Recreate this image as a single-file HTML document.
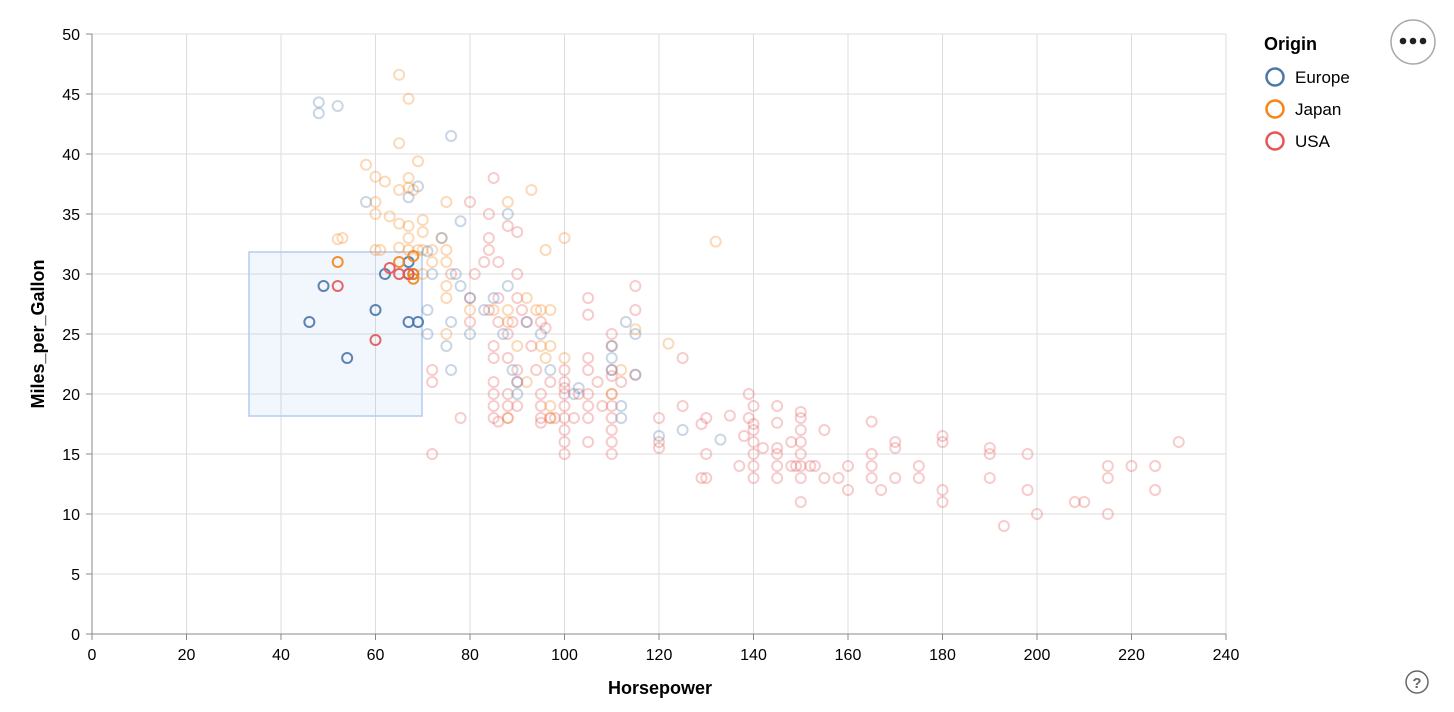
<!DOCTYPE html>
<html><head><meta charset="utf-8"><style>
body{margin:0;background:#fff;font-family:"Liberation Sans",Arial,sans-serif}
svg{display:block}
</style></head><body>
<svg id="s" width="1454" height="712" xmlns="http://www.w3.org/2000/svg" font-family="Liberation Sans, Arial, sans-serif"></svg>
<script>
const s=document.getElementById('s');
const X=v=>92+v*4.725, Y=v=>634-v*12;
let h='';
for(let v=0;v<=240;v+=20){h+=`<line x1="${X(v)}" x2="${X(v)}" y1="34" y2="634" stroke="#ddd"/>`;
 h+=`<line x1="${X(v)}" x2="${X(v)}" y1="634" y2="640" stroke="#888"/><text x="${X(v)}" y="660" font-size="16" text-anchor="middle" fill="#000">${v}</text>`;}
for(let v=0;v<=50;v+=5){h+=`<line x1="92" x2="1226" y1="${Y(v)}" y2="${Y(v)}" stroke="#ddd"/>`;
 h+=`<line x1="86" x2="92" y1="${Y(v)}" y2="${Y(v)}" stroke="#888"/><text x="80" y="${Y(v)+6}" font-size="16" text-anchor="end">${v}</text>`;}
h+=`<line x1="92" x2="1226" y1="634" y2="634" stroke="#888"/><line x1="92" x2="92" y1="34" y2="634" stroke="#888"/>`;
h+=`<rect x="249" y="252" width="173" height="164" fill="rgba(90,140,230,0.08)" stroke="#b3cbf2" stroke-width="1.5"/>`;
h+=`<text x="660" y="694" font-size="18" font-weight="bold" text-anchor="middle">Horsepower</text>`;
h+=`<text transform="translate(44,334) rotate(-90)" font-size="18" font-weight="bold" text-anchor="middle">Miles_per_Gallon</text>`;
const C={E:'#4c78a8',J:'#f58518',U:'#e45756'};
const E=[[48,43.4],[48,44.3],[52,44],[76,41.5],[58,36],[69,37.3],[67,36.4],[71,31.9],[78,34.4],[77,30],[78,29],[76,26],[75,24],[76,22],[71,27],[71,25],[80,25],[83,27],[85,28],[88,35],[87,25],[89,22],[90,21],[92,26],[95,25],[97,22],[102,20],[103,20.5],[110,24],[110,23],[112,18],[112,19],[113,26],[115,25],[115,21.6],[120,16.5],[125,17],[133,16.2],[88,29],[74,33],[72,30],[80,28],[90,20],[110,22]];
const J=[[65,46.6],[67,44.6],[65,40.9],[69,39.4],[58,39.1],[60,38.1],[62,37.7],[67,38],[67,37.2],[65,37],[68,37],[75,36],[88,36],[93,37],[60,36],[60,35],[63,34.8],[65,34.2],[67,34],[70,34.5],[70,33.5],[74,33],[75,32],[75,31],[60,32],[53,33],[52,32.9],[61,32],[65,32.2],[67,32],[69,32],[70,32],[72,32],[96,32],[100,33],[132,32.7],[75,29],[75,28],[80,27],[85,27],[88,27],[88,26],[92,28],[94,27],[95,27],[97,27],[97,24],[95,24],[96,23],[90,24],[122,24.2],[110,20],[112,22],[115,25.4],[97,19],[97,18],[88,18],[75,25],[92,21],[100,23],[72,31],[70,30],[67,33]];
const U=[[72,15],[72,21],[72,22],[76,30],[78,18],[80,26],[80,28],[80,36],[81,30],[83,31],[84,33],[84,35],[85,38],[84,27],[84,32],[85,21],[85,20],[85,19],[85,18],[86,17.7],[85,23],[85,24],[86,26],[86,28],[86,31],[88,25],[88,23],[88,20],[88,19],[88,18],[88,34],[89,26],[90,22],[90,21],[90,19],[90,28],[90,30],[90,33.5],[91,27],[92,26],[93,24],[94,22],[95,20],[95,19],[95,18],[95,17.6],[95,26],[96,25.5],[97,18],[97,21],[98,18],[100,15],[100,16],[100,17],[100,18],[100,19],[100,20],[100,20.5],[100,21],[100,22],[102,18],[103,20],[105,16],[105,18],[105,19],[105,20],[105,22],[105,23],[105,26.6],[105,28],[107,21],[108,19],[110,15],[110,16],[110,17],[110,18],[110,19],[110,20],[110,21.5],[110,22],[110,24],[110,25],[112,21],[115,21.6],[115,27],[115,29],[120,15.5],[120,16],[120,18],[125,19],[125,23],[129,13],[129,17.5],[130,13],[130,15],[130,18],[135,18.2],[137,14],[138,16.5],[139,18],[139,20],[140,13],[140,14],[140,15],[140,16],[140,17],[140,17.5],[140,19],[142,15.5],[145,13],[145,14],[145,15],[145,15.5],[145,17.6],[145,19],[148,14],[148,16],[149,14],[150,11],[150,13],[150,14],[150,15],[150,16],[150,17],[150,18],[150,18.5],[152,14],[153,14],[155,13],[155,17],[158,13],[160,12],[160,14],[165,13],[165,14],[165,15],[165,17.7],[167,12],[170,13],[170,15.5],[170,16],[175,13],[175,14],[180,11],[180,12],[180,16],[180,16.5],[190,13],[190,15],[190,15.5],[193,9],[198,12],[198,15],[200,10],[208,11],[210,11],[215,10],[215,13],[215,14],[220,14],[225,12],[225,14],[230,16]];
const pt=(p,c,o)=>`<circle cx="${X(p[0])}" cy="${Y(p[1])}" r="5" fill="none" stroke="${c}" stroke-width="2" opacity="${o}"/>`;
U.forEach(p=>h+=pt(p,C.U,0.3));J.forEach(p=>h+=pt(p,C.J,0.3));E.forEach(p=>h+=pt(p,C.E,0.3));
const SE=[[46,26],[49,29],[54,23],[60,27],[62,30],[67,31],[67,26],[69,26],[67,30],[68,30]];
const SJ=[[52,31],[68,31.5],[68,30],[68,29.6],[65,31]];
const SU=[[52,29],[60,24.5],[63,30.5],[65,30],[67,30]];
SE.forEach(p=>h+=pt(p,C.E,0.9));SJ.forEach(p=>h+=pt(p,C.J,0.9));SU.forEach(p=>h+=pt(p,C.U,0.9));
h+=`<text x="1264" y="50" font-size="18" font-weight="bold">Origin</text>`;
[['Europe',C.E],['Japan',C.J],['USA',C.U]].forEach((d,i)=>{const y=77+i*32;
 h+=`<circle cx="1275" cy="${y}" r="8.5" fill="none" stroke="${d[1]}" stroke-width="2.5"/><text x="1295" y="${y+6}" font-size="17">${d[0]}</text>`;});
h+=`<circle cx="1413" cy="42" r="22" fill="#fff" stroke="#aaa" stroke-width="1.5"/>`;
[1403,1413,1423].forEach(x=>h+=`<circle cx="${x}" cy="41" r="3.3" fill="#222"/>`);
h+=`<circle cx="1417" cy="682" r="11" fill="none" stroke="#666" stroke-width="1.5"/><text x="1417" y="688" font-size="15" text-anchor="middle" fill="#666" font-weight="bold">?</text>`;
s.innerHTML=h;
</script>
</body></html>
